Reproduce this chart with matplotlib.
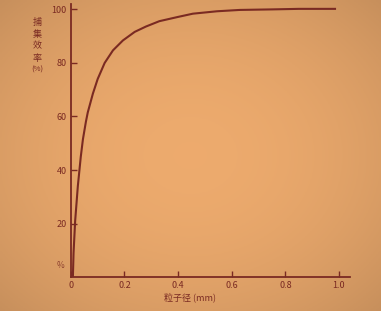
import numpy as np
import matplotlib.pyplot as plt

plt.rcParams['font.family'] = ['Noto Sans CJK SC', 'DejaVu Sans']

# particle size (mm) vs efficiency (%)
size = [0.0075, 0.010, 0.016, 0.026, 0.037, 0.045, 0.056, 0.063, 0.082, 0.100,
        0.126, 0.157, 0.194, 0.238, 0.280, 0.330, 0.400, 0.455, 0.545, 0.630,
        0.750, 0.850, 0.985]
eff = [0.0, 9.0, 21.0, 34.0, 45.0, 51.5, 58.0, 61.5, 68.5, 74.0,
       80.0, 84.7, 88.4, 91.6, 93.6, 95.6, 97.2, 98.4, 99.3, 99.8,
       100.0, 100.2, 100.2]
xticks = [0, 0.2, 0.4, 0.6, 0.8, 1.0]
xlabels = ['0', '0.2', '0.4', '0.6', '0.8', '1.0']
yticks = [20, 40, 60, 80, 100]
ylab = ['捕', '集', '效', '率', '(%)']

ink = '#7a2a22'
paper = '#e9a96c'

fig = plt.figure(figsize=(3.81, 3.11), dpi=100)
fig.patch.set_facecolor(paper)

# slight darkening towards the edges, like the scanned paper
bg = fig.add_axes([0, 0, 1, 1], zorder=-1)
yy, xx = np.mgrid[-1:1:120j, -1:1:150j]
shade = np.clip(1 - 0.08 * (xx ** 2 + yy ** 2), 0, 1)
base = np.array([0.93, 0.67, 0.43])
img = shade[..., None] * base[None, None, :]
bg.imshow(np.clip(img, 0, 1), aspect='auto', extent=[0, 1, 0, 1])
bg.axis('off')

ax = fig.add_axes([0.186, 0.109, 0.732, 0.878])
ax.patch.set_alpha(0)
ax.plot(size, eff, color=ink, lw=1.5)
ax.set_xlim(0, 1.04)
ax.set_ylim(0, 102)
ax.set_xticks(xticks)
ax.set_xticklabels(xlabels)
ax.set_yticks(yticks)
for s in ['top', 'right']:
    ax.spines[s].set_visible(False)
for s in ['left', 'bottom']:
    ax.spines[s].set_color(ink)
    ax.spines[s].set_linewidth(1.3)
ax.tick_params(direction='in', length=4, width=1, color=ink,
               labelcolor=ink, labelsize=6.5, pad=3)

for i, ch in enumerate(ylab):
    fig.text(0.097, 1 - (22 + 12 * i) / 311, ch, color=ink,
             fontsize=6.5 if i < 4 else 5.5, ha='center', va='center')
fig.text(0.16, 0.145, '%', color=ink, fontsize=6, ha='center', va='center',
         alpha=0.8)
fig.text(0.5, 0.045, '粒子径 (mm)', color=ink, fontsize=6.5,
         ha='center', va='center')

fig.savefig('out.png', dpi=100, facecolor=fig.get_facecolor())
